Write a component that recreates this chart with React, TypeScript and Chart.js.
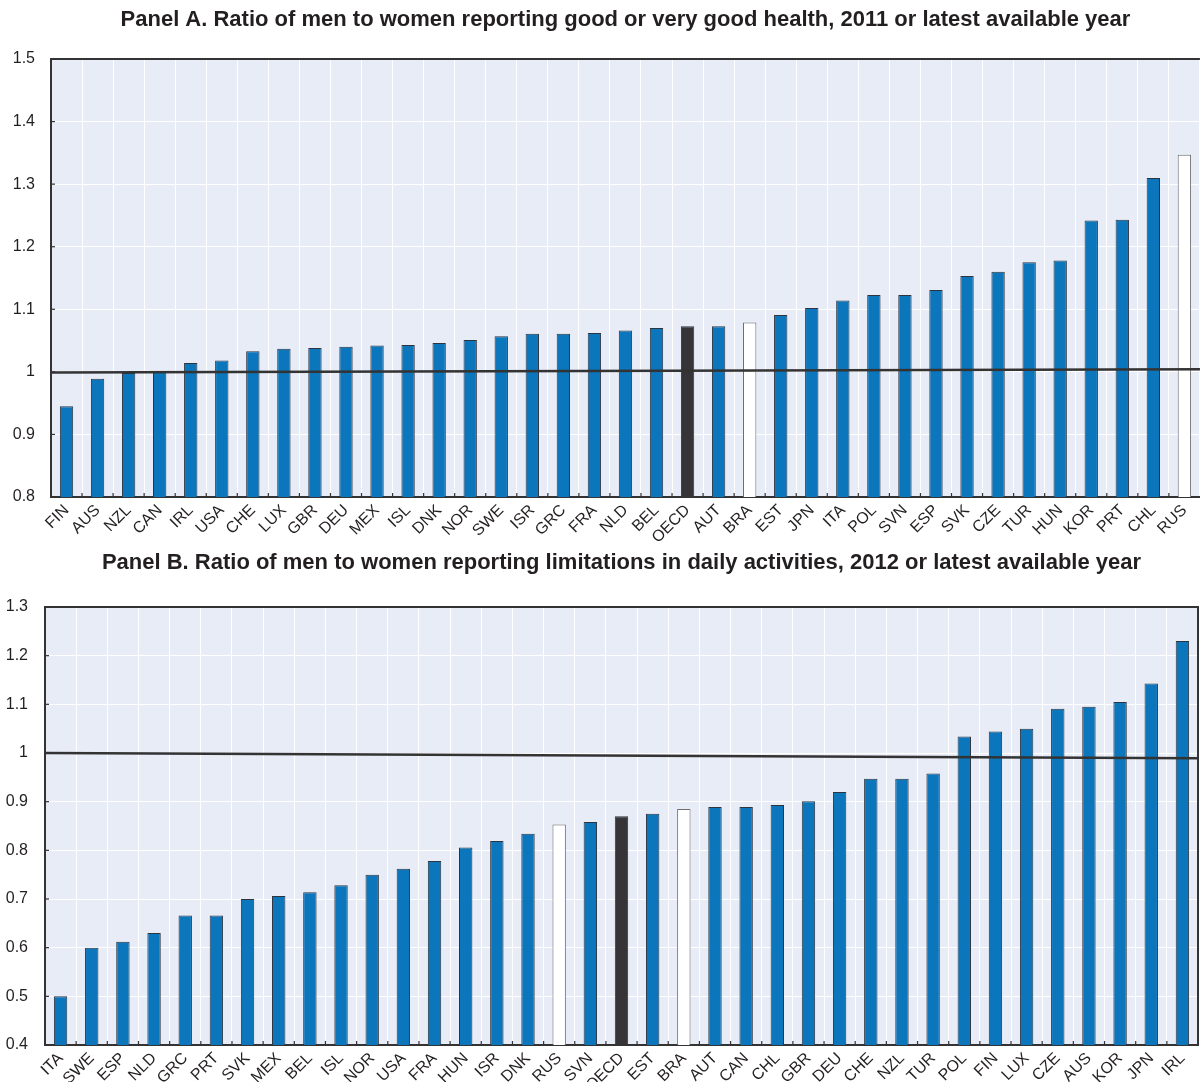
import React, { useEffect, useRef } from 'react';
import { Chart, registerables } from 'chart.js';

Chart.register(...registerables);

const FONT = "'Liberation Sans Narrow', 'Arial Narrow', 'Liberation Sans', Arial, sans-serif";

// ---------- Panel A ----------
const titleA = 'Panel A. Ratio of men to women reporting good or very good health, 2011 or latest available year';
const catsA = ['FIN', 'AUS', 'NZL', 'CAN', 'IRL', 'USA', 'CHE', 'LUX', 'GBR', 'DEU', 'MEX', 'ISL', 'DNK', 'NOR', 'SWE', 'ISR', 'GRC', 'FRA', 'NLD', 'BEL', 'OECD', 'AUT', 'BRA', 'EST', 'JPN', 'ITA', 'POL', 'SVN', 'ESP', 'SVK', 'CZE', 'TUR', 'HUN', 'KOR', 'PRT', 'CHL', 'RUS'];
const valsA = [0.945, 0.989, 0.998, 1.0, 1.014, 1.018, 1.033, 1.037, 1.038, 1.040, 1.042, 1.043, 1.046, 1.051, 1.057, 1.061, 1.061, 1.062, 1.066, 1.070, 1.073, 1.073, 1.079, 1.091, 1.102, 1.114, 1.123, 1.123, 1.131, 1.153, 1.160, 1.175, 1.178, 1.242, 1.243, 1.310, 1.347];
const refA = [0.999, 1.004];
const yRangeA = [0.8, 1.5];

// ---------- Panel B ----------
const titleB = 'Panel B. Ratio of men to women reporting limitations in daily activities, 2012 or latest available year';
const catsB = ['ITA', 'SWE', 'ESP', 'NLD', 'GRC', 'PRT', 'SVK', 'MEX', 'BEL', 'ISL', 'NOR', 'USA', 'FRA', 'HUN', 'ISR', 'DNK', 'RUS', 'SVN', 'OECD', 'EST', 'BRA', 'AUT', 'CAN', 'CHL', 'GBR', 'DEU', 'CHE', 'NZL', 'TUR', 'POL', 'FIN', 'LUX', 'CZE', 'AUS', 'KOR', 'JPN', 'IRL'];
const valsB = [0.500, 0.600, 0.612, 0.630, 0.666, 0.666, 0.700, 0.706, 0.714, 0.728, 0.750, 0.762, 0.778, 0.806, 0.819, 0.834, 0.853, 0.858, 0.870, 0.875, 0.885, 0.889, 0.889, 0.893, 0.901, 0.920, 0.947, 0.947, 0.958, 1.034, 1.044, 1.050, 1.091, 1.095, 1.105, 1.143, 1.230];
const refB = [1.0, 0.989];
const yRangeB = [0.4, 1.3];

const averageKeys = ['OECD'];
const partnerKeys = ['BRA', 'RUS'];

const BLUE = '#0b76bb';
const DARK = '#363436';
const PLOT_BG = '#e8ecf6';

const panelPlugin = {
  id: 'panelDecor',
  beforeDraw(chart: any) {
    const { ctx, chartArea: a } = chart;
    ctx.save();
    ctx.fillStyle = PLOT_BG;
    ctx.fillRect(a.left, a.top, a.right - a.left, a.bottom - a.top);
    ctx.restore();
  },
  afterDraw(chart: any) {
    const { ctx, chartArea: a } = chart;
    const o = chart.options.plugins.panelDecor || {};
    ctx.save();
    ctx.strokeStyle = '#333';
    ctx.lineWidth = 2;
    ctx.beginPath();
    ctx.moveTo(a.left, a.top);
    ctx.lineTo(a.right, a.top);
    if (o.rightBorder) {
      ctx.lineTo(a.right, a.bottom);
    }
    ctx.stroke();
    ctx.lineWidth = 1.2;
    const ys = chart.scales.y;
    ys.ticks.forEach((t: any) => {
      const py = ys.getPixelForValue(t.value);
      ctx.beginPath();
      ctx.moveTo(a.left, py);
      ctx.lineTo(a.left + 4, py);
      ctx.stroke();
    });
    const xs = chart.scales.x;
    const n = chart.data.labels.length;
    for (let i = 1; i < n; i++) {
      const px = (xs.getPixelForValue(i - 1) + xs.getPixelForValue(i)) / 2;
      ctx.beginPath();
      ctx.moveTo(px, a.bottom);
      ctx.lineTo(px, a.bottom - 4);
      ctx.stroke();
    }
    ctx.restore();
  },
};

function buildConfig(title: string, cats: string[], vals: number[], ref: number[], yRange: number[], opts: any) {
  const fill = cats.map((c) => (averageKeys.includes(c) ? DARK : partnerKeys.includes(c) ? '#ffffff' : BLUE));
  const border = cats.map((c) => (partnerKeys.includes(c) ? '#6e6e6e' : '#2c3440'));
  return {
    type: 'bar',
    data: {
      labels: cats,
      datasets: [
        {
          type: 'line',
          xAxisID: 'xl',
          yAxisID: 'y',
          data: [{ x: 0, y: ref[0] }, { x: 1, y: ref[1] }],
          borderColor: '#333',
          borderWidth: 2.5,
          pointRadius: 0,
          order: 0,
        },
        {
          type: 'bar',
          xAxisID: 'x',
          yAxisID: 'y',
          data: vals,
          backgroundColor: fill,
          borderColor: border,
          borderWidth: 1,
          barPercentage: 0.43,
          categoryPercentage: 1,
          grouped: false,
          order: 1,
        },
      ],
    },
    options: {
      responsive: false,
      animation: false,
      layout: { padding: { left: 0, right: opts.padRight, top: 0, bottom: 0 } },
      plugins: {
        legend: { display: false },
        tooltip: { enabled: false },
        title: {
          display: true,
          text: title,
          color: '#231f20',
          font: { family: FONT, size: 22, weight: 'bold' },
          padding: { top: opts.titleTop, bottom: opts.titleBottom },
          fullSize: false,
        },
        panelDecor: { rightBorder: opts.rightBorder },
      },
      scales: {
        xl: { type: 'linear', display: false, min: 0, max: 1, offset: false, grid: { offset: false } },
        x: {
          type: 'category',
          grid: { color: '#ffffff', lineWidth: 1, drawTicks: false, offset: true },
          border: { display: true, color: '#333', width: 2 },
          ticks: {
            autoSkip: false,
            minRotation: 45,
            maxRotation: 45,
            padding: 4,
            color: '#231f20',
            font: { family: FONT, size: 16 },
          },
          afterFit: (s: any) => { s.height = opts.xHeight; },
        },
        y: {
          min: yRange[0],
          max: yRange[1],
          grid: { color: '#ffffff', lineWidth: 1, drawTicks: false },
          border: { display: true, color: '#333', width: 2 },
          ticks: {
            stepSize: 0.1,
            padding: opts.yPad,
            color: '#231f20',
            font: { family: FONT, size: 16 },
            callback: (v: any) => String(Number(Number(v).toFixed(1))),
          },
          afterFit: (s: any) => { s.width = opts.yWidth; },
        },
      },
    },
    plugins: [panelPlugin],
  };
}

function Panel(props: { config: any; width: number; height: number; top: number }) {
  const ref = useRef<HTMLCanvasElement | null>(null);
  useEffect(() => {
    if (!ref.current) return;
    const chart = new Chart(ref.current, props.config);
    return () => chart.destroy();
  }, []);
  return (
    <canvas
      ref={ref}
      width={props.width}
      height={props.height}
      style={{ position: 'absolute', left: 0, top: props.top, display: 'block' }}
    />
  );
}

export default function App() {
  const cfgA = buildConfig(titleA, catsA, valsA, refA, yRangeA, {
    padRight: 0, titleTop: 7, titleBottom: 25.6, xHeight: 48, yWidth: 51, yPad: 16, rightBorder: false,
  });
  const cfgB = buildConfig(titleB, catsB, valsB, refB, yRangeB, {
    padRight: 4, titleTop: 5, titleBottom: 30.6, xHeight: 37, yWidth: 45, yPad: 17, rightBorder: true,
  });
  return (
    <div style={{ position: 'fixed', left: 0, top: 0, width: 1202, height: 1082, background: '#fff', overflow: 'hidden' }}>
      <Panel config={cfgA} width={1202} height={545} top={0} />
      <Panel config={cfgB} width={1202} height={537} top={545} />
    </div>
  );
}
